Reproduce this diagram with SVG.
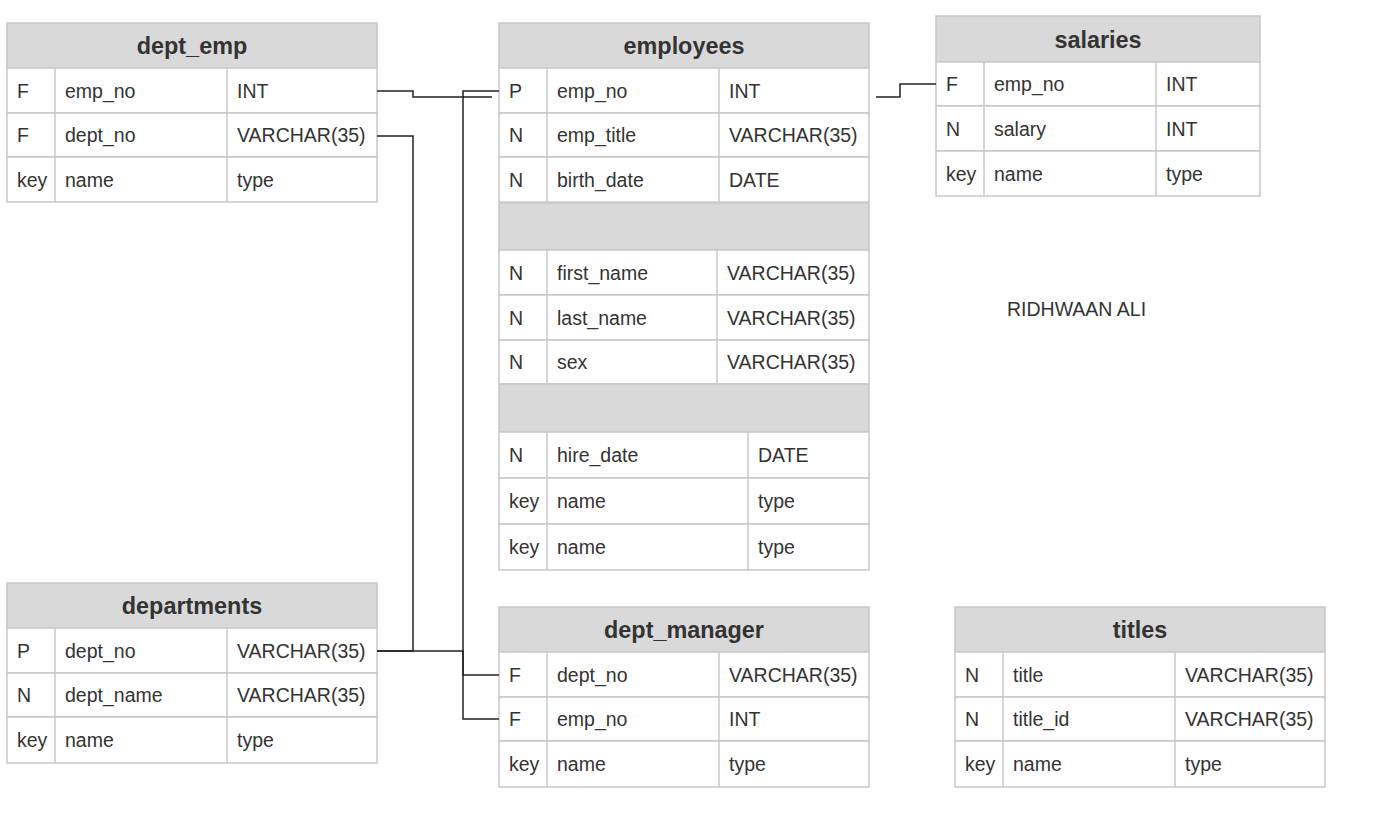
<svg xmlns="http://www.w3.org/2000/svg" width="1399" height="820" viewBox="0 0 1399 820">
<style>
.hdr{fill:#d9d9d9;stroke:#c8c8c8;stroke-width:1.5}
.cell{fill:#ffffff;stroke:#c8c8c8;stroke-width:1.5}
.sep{stroke:#c8c8c8;stroke-width:1.5}
.t{font-family:"Liberation Sans",Arial,sans-serif;font-size:19.5px;fill:#333333}
.h{font-family:"Liberation Sans",Arial,sans-serif;font-size:23.4px;font-weight:bold;fill:#333333;text-anchor:middle}
.conn{fill:none;stroke:#222222;stroke-width:1.5}
</style>
<rect width="1399" height="820" fill="#ffffff"/>

<g id="dept_emp">
<rect class="hdr" x="7" y="23" width="370" height="45"/>
<text class="h" x="192" y="54">dept_emp</text>
<rect class="cell" x="7" y="68" width="370" height="45"/>
<rect class="cell" x="7" y="113" width="370" height="44"/>
<rect class="cell" x="7" y="157" width="370" height="45"/>
<line class="sep" x1="55" y1="68" x2="55" y2="202"/>
<line class="sep" x1="227" y1="68" x2="227" y2="202"/>
<text class="t" x="17" y="97.5">F</text><text class="t" x="65" y="97.5">emp_no</text><text class="t" x="237" y="97.5">INT</text>
<text class="t" x="17" y="142">F</text><text class="t" x="65" y="142">dept_no</text><text class="t" x="237" y="142">VARCHAR(35)</text>
<text class="t" x="17" y="186.5">key</text><text class="t" x="65" y="186.5">name</text><text class="t" x="237" y="186.5">type</text>
</g>

<g id="employees">
<rect class="hdr" x="499" y="23" width="370" height="45"/>
<text class="h" x="684" y="54">employees</text>
<rect class="cell" x="499" y="68" width="370" height="45"/>
<rect class="cell" x="499" y="113" width="370" height="44"/>
<rect class="cell" x="499" y="157" width="370" height="45"/>
<line class="sep" x1="547" y1="68" x2="547" y2="202"/>
<line class="sep" x1="719" y1="68" x2="719" y2="202"/>
<text class="t" x="509" y="97.5">P</text><text class="t" x="557" y="97.5">emp_no</text><text class="t" x="729" y="97.5">INT</text>
<text class="t" x="509" y="142">N</text><text class="t" x="557" y="142">emp_title</text><text class="t" x="729" y="142">VARCHAR(35)</text>
<text class="t" x="509" y="186.5">N</text><text class="t" x="557" y="186.5">birth_date</text><text class="t" x="729" y="186.5">DATE</text>
<rect class="hdr" x="499" y="203" width="370" height="47"/>
<rect class="cell" x="499" y="250" width="370" height="45"/>
<rect class="cell" x="499" y="295" width="370" height="45"/>
<rect class="cell" x="499" y="340" width="370" height="44"/>
<line class="sep" x1="547" y1="250" x2="547" y2="384"/>
<line class="sep" x1="717" y1="250" x2="717" y2="384"/>
<text class="t" x="509" y="279.5">N</text><text class="t" x="557" y="279.5">first_name</text><text class="t" x="727" y="279.5">VARCHAR(35)</text>
<text class="t" x="509" y="324.5">N</text><text class="t" x="557" y="324.5">last_name</text><text class="t" x="727" y="324.5">VARCHAR(35)</text>
<text class="t" x="509" y="369">N</text><text class="t" x="557" y="369">sex</text><text class="t" x="727" y="369">VARCHAR(35)</text>
<rect class="hdr" x="499" y="384" width="370" height="48"/>
<rect class="cell" x="499" y="432" width="370" height="46"/>
<rect class="cell" x="499" y="478" width="370" height="46"/>
<rect class="cell" x="499" y="524" width="370" height="46"/>
<line class="sep" x1="547" y1="432" x2="547" y2="570"/>
<line class="sep" x1="748" y1="432" x2="748" y2="570"/>
<text class="t" x="509" y="462">N</text><text class="t" x="557" y="462">hire_date</text><text class="t" x="758" y="462">DATE</text>
<text class="t" x="509" y="508">key</text><text class="t" x="557" y="508">name</text><text class="t" x="758" y="508">type</text>
<text class="t" x="509" y="554">key</text><text class="t" x="557" y="554">name</text><text class="t" x="758" y="554">type</text>
</g>

<g id="salaries">
<rect class="hdr" x="936" y="16" width="324" height="46"/>
<text class="h" x="1098" y="48">salaries</text>
<rect class="cell" x="936" y="62" width="324" height="44"/>
<rect class="cell" x="936" y="106" width="324" height="45"/>
<rect class="cell" x="936" y="151" width="324" height="45"/>
<line class="sep" x1="984" y1="62" x2="984" y2="196"/>
<line class="sep" x1="1156" y1="62" x2="1156" y2="196"/>
<text class="t" x="946" y="91">F</text><text class="t" x="994" y="91">emp_no</text><text class="t" x="1166" y="91">INT</text>
<text class="t" x="946" y="135.5">N</text><text class="t" x="994" y="135.5">salary</text><text class="t" x="1166" y="135.5">INT</text>
<text class="t" x="946" y="180.5">key</text><text class="t" x="994" y="180.5">name</text><text class="t" x="1166" y="180.5">type</text>
</g>

<g id="departments">
<rect class="hdr" x="7" y="583" width="370" height="45"/>
<text class="h" x="192" y="614">departments</text>
<rect class="cell" x="7" y="628" width="370" height="45"/>
<rect class="cell" x="7" y="673" width="370" height="44"/>
<rect class="cell" x="7" y="717" width="370" height="46"/>
<line class="sep" x1="55" y1="628" x2="55" y2="763"/>
<line class="sep" x1="227" y1="628" x2="227" y2="763"/>
<text class="t" x="17" y="657.5">P</text><text class="t" x="65" y="657.5">dept_no</text><text class="t" x="237" y="657.5">VARCHAR(35)</text>
<text class="t" x="17" y="702">N</text><text class="t" x="65" y="702">dept_name</text><text class="t" x="237" y="702">VARCHAR(35)</text>
<text class="t" x="17" y="747">key</text><text class="t" x="65" y="747">name</text><text class="t" x="237" y="747">type</text>
</g>

<g id="dept_manager">
<rect class="hdr" x="499" y="607" width="370" height="45"/>
<text class="h" x="684" y="638">dept_manager</text>
<rect class="cell" x="499" y="652" width="370" height="45"/>
<rect class="cell" x="499" y="697" width="370" height="44"/>
<rect class="cell" x="499" y="741" width="370" height="46"/>
<line class="sep" x1="547" y1="652" x2="547" y2="787"/>
<line class="sep" x1="719" y1="652" x2="719" y2="787"/>
<text class="t" x="509" y="681.5">F</text><text class="t" x="557" y="681.5">dept_no</text><text class="t" x="729" y="681.5">VARCHAR(35)</text>
<text class="t" x="509" y="726">F</text><text class="t" x="557" y="726">emp_no</text><text class="t" x="729" y="726">INT</text>
<text class="t" x="509" y="771">key</text><text class="t" x="557" y="771">name</text><text class="t" x="729" y="771">type</text>
</g>

<g id="titles">
<rect class="hdr" x="955" y="607" width="370" height="45"/>
<text class="h" x="1140" y="638">titles</text>
<rect class="cell" x="955" y="652" width="370" height="45"/>
<rect class="cell" x="955" y="697" width="370" height="44"/>
<rect class="cell" x="955" y="741" width="370" height="46"/>
<line class="sep" x1="1003" y1="652" x2="1003" y2="787"/>
<line class="sep" x1="1175" y1="652" x2="1175" y2="787"/>
<text class="t" x="965" y="681.5">N</text><text class="t" x="1013" y="681.5">title</text><text class="t" x="1185" y="681.5">VARCHAR(35)</text>
<text class="t" x="965" y="726">N</text><text class="t" x="1013" y="726">title_id</text><text class="t" x="1185" y="726">VARCHAR(35)</text>
<text class="t" x="965" y="771">key</text><text class="t" x="1013" y="771">name</text><text class="t" x="1185" y="771">type</text>
</g>

<g id="author">
<text class="t" x="1007" y="316">RIDHWAAN ALI</text>
</g>

<g id="connectors">
<path class="conn" d="M377,91 H413 V97 H492"/>
<path class="conn" d="M377,136 H413 V651 H377"/>
<path class="conn" d="M377,651 H463 V675 H499"/>
<path class="conn" d="M499,719 H463 V91 H499"/>
<path class="conn" d="M876,97 H900 V84 H936"/>
</g>
</svg>
